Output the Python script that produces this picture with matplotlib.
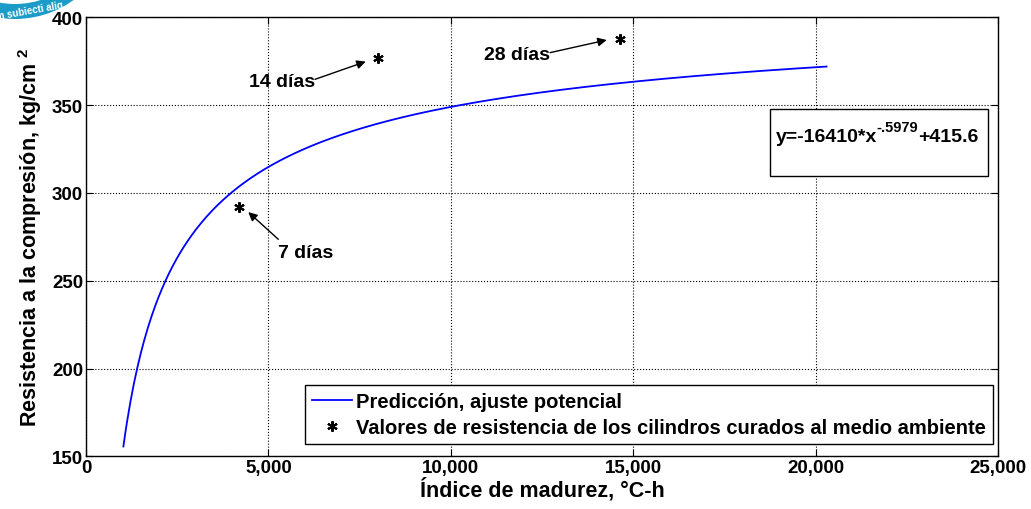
import numpy as np
import matplotlib
matplotlib.use('Agg')
from matplotlib import pyplot as plt
from matplotlib.patches import Wedge, Rectangle
from matplotlib.ticker import FuncFormatter

plt.rcParams['font.family'] = ['Liberation Sans', 'DejaVu Sans']
plt.rcParams['font.weight'] = 'bold'
plt.rcParams['mathtext.fontset'] = 'custom'
plt.rcParams['mathtext.rm'] = 'Liberation Sans'
plt.rcParams['mathtext.bf'] = 'Liberation Sans:bold'

# Ajuste potencial: y = a*x^b + c
coef_a = -16410.0
coef_b = -0.5979
coef_c = 415.6
x_inicio = 1025
x_fin = 20300

# Resistencias medidas (cilindros curados al medio ambiente)
madurez = [4200, 8000, 14650]
resistencia = [292, 377, 387.5]
edades = ['7 días', '14 días', '28 días']

x = np.linspace(x_inicio, x_fin, 400)
y = coef_a * x ** coef_b + coef_c

fig = plt.figure(figsize=(10.31, 5.10), dpi=100)
ax = fig.add_axes([0.0834, 0.1033, 0.8846, 0.8607])

asterisco = (6, 2, 0)
ax.plot(x, y, color='#0000ff', lw=1.3, label='Predicción, ajuste potencial')
ax.plot(madurez, resistencia, color='k', marker=asterisco, ms=7.5, mew=1.5,
        linestyle='none',
        label='Valores de resistencia de los cilindros curados al medio ambiente')

# Etiquetas con flechas
flechas = [((4449, 289.1), (5272, 273.6), (6017, 266.0), 'center'),
           ((7667, 374.8), (6277, 364.7), (6277, 363.4), 'right'),
           ((14273, 387.1), (12720, 379.9), (12720, 378.9), 'right')]
for edad, (punta, cola, pos_txt, ha) in zip(edades, flechas):
    ax.annotate('', xy=punta, xytext=cola,
                arrowprops=dict(arrowstyle='-|>', color='k', lw=1.0,
                                mutation_scale=13, shrinkA=0, shrinkB=0))
    ax.text(pos_txt[0], pos_txt[1], edad, ha=ha, va='center',
            fontsize=14, fontweight='bold')

# Cuadro con la ecuación
ax.add_patch(Rectangle((18750, 309.5), 5970, 38.1, facecolor='white',
                       edgecolor='k', lw=1.0, zorder=3))
t1 = ax.text(18900, 327.5, 'y=-16410*x', ha='left', va='bottom',
             fontsize=14, fontweight='bold', zorder=4)
t2 = ax.annotate('-.5979', xy=(1, 0.6), xycoords=t1, ha='left',
                 va='bottom', fontsize=10.5, fontweight='bold', zorder=4)
ax.annotate('+415.6', xy=(1, 0), xycoords=(t2, t1), ha='left', va='bottom',
            fontsize=14, fontweight='bold', zorder=4)

ax.set_xlim(0, 25000)
ax.set_ylim(150, 400)
ax.set_xticks(np.arange(0, 25001, 5000))
ax.set_yticks(np.arange(150, 401, 50))
ax.xaxis.set_major_formatter(FuncFormatter(lambda v, p: '{:,.0f}'.format(v)))
ax.tick_params(direction='in', length=5, top=True, right=True,
               labelsize=13.5, pad=2)
for lbl in ax.get_xticklabels() + ax.get_yticklabels():
    lbl.set_fontweight('bold')
ax.grid(True, color='k', linestyle=':', lw=0.8)
for s in ax.spines.values():
    s.set_linewidth(1.0)

ax.set_xlabel('Índice de madurez, °C-h', fontsize=15.5, fontweight='bold',
              labelpad=1)
ax.set_ylabel(r'Resistencia a la compresión, kg/cm $^{\mathbf{2}}$',
              fontsize=15.5, fontweight='bold', labelpad=6)

leg = ax.legend(loc='lower right', bbox_to_anchor=(0.9945, 0.028),
                borderaxespad=0, fancybox=False, edgecolor='k', framealpha=1,
                fontsize=14.5, handlelength=2.0, handletextpad=0.2,
                borderpad=0.35, labelspacing=0.35)
leg.get_frame().set_linewidth(1.0)
for t in leg.get_texts():
    t.set_fontweight('bold')

# Sello en la esquina superior izquierda
fig.patches.append(Wedge((15, 590), 100, 180, 360, width=15,
                         facecolor='#1b9cc8', edgecolor='none',
                         transform=None, figure=fig))
fig.text(30, 499, 'm subiecti aliq', color='white', fontsize=7,
         fontweight='bold', rotation=10, ha='center', va='center',
         transform=None)

plt.savefig('out.png', dpi=100)
